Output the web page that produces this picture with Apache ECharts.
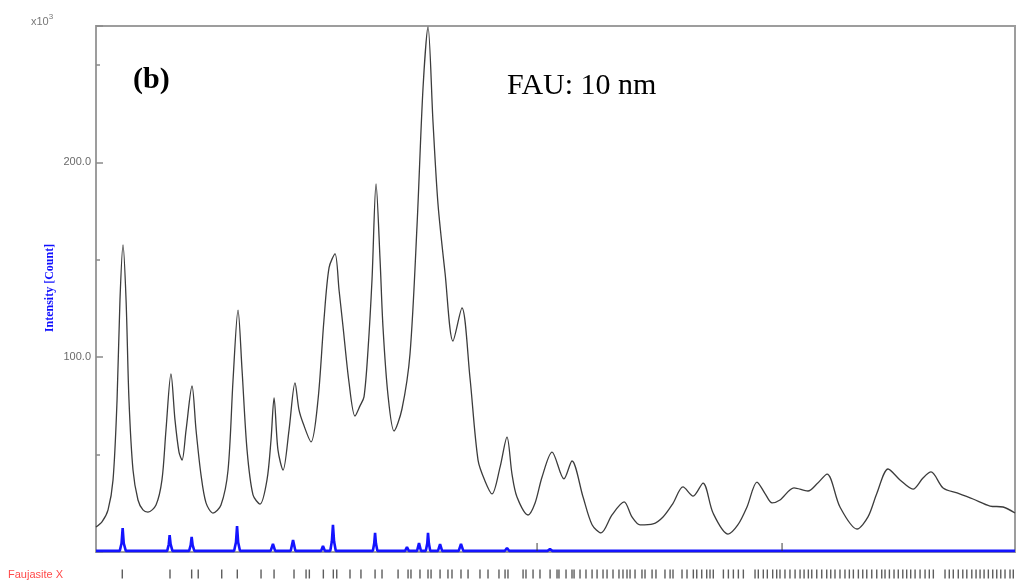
<!DOCTYPE html>
<html><head><meta charset="utf-8">
<script src="https://cdn.jsdelivr.net/npm/echarts@6/dist/echarts.min.js"></script>
<style>html,body{margin:0;padding:0;background:#fff}#c{width:1032px;height:587px}</style>
</head><body><div id="c"></div>
<script>
// Observed XRD pattern (2θ in degrees, intensity in 10^3 counts)
const twoTheta = [4.00,4.49,4.99,5.40,5.73,5.97,6.22,6.47,6.71,7.04,7.45,7.86,8.27,8.93,9.42,9.75,10.16,10.49,10.82,11.07,11.40,11.89,12.22,12.63,13.04,13.61,14.27,14.85,15.26,15.67,16.00,16.41,16.90,17.48,18.05,18.38,18.63,18.95,19.37,19.86,20.35,20.68,21.01,21.67,22.24,22.73,23.15,23.64,23.97,24.30,24.79,25.28,25.69,26.02,26.35,26.68,27.01,27.34,27.58,27.99,28.49,29.14,29.80,30.38,30.87,31.28,31.69,32.10,32.68,33.33,34.07,34.73,35.39,35.96,36.54,37.20,37.77,38.18,38.59,39.50,40.07,40.65,41.47,42.45,43.11,44.02,44.76,45.50,46.40,47.39,48.04,48.70,49.77,50.59,51.41,52.23,53.06,53.88,54.70,55.93,56.75,57.49,58.31,58.97,59.55,60.20,61.35,62.50,63.24,64.07,65.13,66.53,67.43,68.17,69.08,70.06,71.13,71.95,72.61,73.60,74.75,76.06,77.46,78.53,79.51];
const intensity = [12.8,15.4,21.6,37.0,78.0,129.4,157.6,129.4,78.0,42.1,26.7,21.6,20.5,24.1,37.0,62.6,91.4,67.8,51.3,47.2,62.6,85.2,62.6,39.5,25.2,20.0,24.1,42.1,88.3,124.2,93.4,52.4,29.3,24.6,37.0,57.5,79.1,52.4,42.1,62.6,86.8,72.9,66.2,56.5,78.0,119.1,146.0,153.0,134.5,115.5,87.0,69.8,75.0,79.6,103.7,140.0,188.9,150.0,115.5,80.6,62.1,73.4,101.6,167.9,238.2,269.5,220.7,178.6,143.2,108.3,125.3,89.3,47.2,36.5,29.8,43.6,59.0,40.0,28.2,19.0,25.0,38.5,51.3,37.5,46.7,28.2,14.0,9.8,19.0,25.7,18.0,13.9,14.4,18.0,25.0,33.4,28.7,35.4,20.0,9.2,14.0,23.1,35.9,30.0,25.2,26.7,32.9,31.3,35.0,40.0,23.1,11.8,18.0,30.3,42.6,37.0,32.3,38.0,41.1,32.9,30.3,27.2,23.6,23.1,20.0];

// Blue trace near the baseline
const calcTheta = [4.00,5.95,6.10,6.19,6.28,6.45,9.85,9.98,10.05,10.13,10.28,11.65,11.78,11.86,11.94,12.08,15.35,15.50,15.59,15.68,15.83,18.35,18.54,18.72,20.00,20.19,20.38,21.05,21.17,21.30,22.50,22.65,22.80,23.25,23.38,23.47,23.56,23.70,26.75,26.86,26.93,27.00,27.12,29.40,29.55,29.70,30.38,30.54,30.70,31.10,31.22,31.28,31.35,31.46,32.10,32.27,32.44,33.80,33.99,34.18,34.45,34.57,34.70,37.60,37.77,37.94,41.10,41.30,41.50,42.80,42.95,43.10,79.51];
const calcIntensity = [0.6,0.6,4.5,12.3,4.5,0.6,0.6,4.0,8.7,4.0,0.6,0.6,3.5,7.7,3.5,0.6,0.6,5.0,13.3,5.0,0.6,0.6,4.1,0.6,0.6,6.2,0.6,0.6,1.6,0.6,0.6,3.1,0.6,0.6,5.5,13.9,5.5,0.6,0.6,4.5,9.8,4.5,0.6,0.6,2.6,0.6,0.6,4.6,0.6,0.6,4.5,9.8,4.5,0.6,0.6,4.1,0.6,0.6,4.1,0.6,0.6,1.6,0.6,0.6,2.1,0.6,0.6,1.5,0.6,0.6,1.5,0.6,0.6];

// Small vertical markers on the baseline
const markerTheta = [40.24, 60.37];

// Faujasite X reflection positions (2θ)
const reflectionTheta = [6.16,10.08,11.86,12.40,14.33,15.61,17.56,18.63,20.27,21.26,21.53,22.68,23.50,23.78,24.87,25.77,26.93,27.50,28.82,29.64,29.88,30.62,31.28,31.53,32.27,32.92,33.25,33.99,34.57,35.55,36.21,37.11,37.61,37.85,39.09,39.33,39.91,40.48,41.31,41.88,42.04,42.62,43.11,43.28,43.77,44.26,44.76,45.17,45.66,45.99,46.48,46.97,47.30,47.63,47.88,48.29,48.86,49.11,49.69,50.01,50.75,51.17,51.41,52.15,52.56,53.08,53.36,53.77,54.18,54.45,54.72,55.55,55.96,56.37,56.78,57.19,58.15,58.42,58.83,59.16,59.60,59.93,60.20,60.61,61.02,61.44,61.85,62.18,62.53,62.81,63.22,63.63,64.04,64.37,64.72,65.13,65.54,65.90,66.23,66.64,67.00,67.33,67.74,68.15,68.56,68.83,69.19,69.57,69.92,70.29,70.61,70.94,71.30,71.71,72.12,72.47,72.80,73.76,74.11,74.44,74.85,75.22,75.55,75.96,76.31,76.64,76.97,77.32,77.68,78.01,78.34,78.69,79.10,79.37];

const yTickLabels = [100, 200];
const xMin = 4, xMax = 79.51, yMin = 0, yMax = 270;

const chart = echarts.init(document.getElementById('c'), null, {renderer: 'canvas'});
const obs = twoTheta.map((t, i) => [t, intensity[i]]);
const calc = calcTheta.map((t, i) => [t, calcIntensity[i]]);

const option = {
  animation: false,
  backgroundColor: '#fff',
  grid: [
    {left: 96, top: 26, width: 919, height: 526, show: true, borderColor: '#9d9d9d', borderWidth: 2, backgroundColor: 'transparent'},
    {left: 96, top: 569, width: 919, height: 10}
  ],
  xAxis: [
    {type: 'value', gridIndex: 0, min: xMin, max: xMax, show: false},
    {type: 'value', gridIndex: 1, min: xMin, max: xMax, show: false}
  ],
  yAxis: [
    {type: 'value', gridIndex: 0, position: 'left', min: yMin, max: yMax, interval: 100,
     axisLine: {show: false},
     axisTick: {show: true, inside: true, length: 7, lineStyle: {color: '#8a8a8a', width: 1.5}},
     axisLabel: {formatter: v => yTickLabels.includes(v) ? v.toFixed(1) : '', color: '#6a6a6a', fontSize: 11, fontFamily: 'Liberation Sans', margin: 5},
     splitLine: {show: false}},
    {type: 'value', gridIndex: 0, position: 'left', offset: 0, min: yMin, max: yMax, interval: 50,
     axisLine: {show: false},
     axisTick: {show: true, inside: true, length: 4, lineStyle: {color: '#8a8a8a', width: 1.5}},
     axisLabel: {show: false}, splitLine: {show: false}},
    {type: 'value', gridIndex: 1, min: 0, max: 1, show: false}
  ],
  series: [
    {type: 'line', xAxisIndex: 0, yAxisIndex: 0, data: obs, symbol: 'none', smooth: 0.3,
     lineStyle: {color: '#3c3c3c', width: 1.3}, z: 3},
    {type: 'line', xAxisIndex: 0, yAxisIndex: 0, data: calc, symbol: 'none',
     lineStyle: {color: '#1414ff', width: 2.6}, z: 4},
    {type: 'scatter', xAxisIndex: 0, yAxisIndex: 0, data: markerTheta.map(t => [t, 2.6]),
     symbol: 'rect', symbolSize: [1.2, 8], itemStyle: {color: '#333'}, z: 5, silent: true},
    {type: 'scatter', xAxisIndex: 1, yAxisIndex: 2, data: reflectionTheta.map(t => [t, 0.5]),
     symbol: 'rect', symbolSize: [1.4, 9], itemStyle: {color: '#333'}, silent: true}
  ],
  graphic: [
    {type: 'text', left: 31, top: 13, style: {
      text: '{a|x10}{s|3}', rich: {a: {fontSize: 11, fill: '#777', fontFamily: 'Liberation Sans', verticalAlign: 'bottom', lineHeight: 14}, s: {fontSize: 8, fill: '#777', fontFamily: 'Liberation Sans', verticalAlign: 'top', lineHeight: 14}}}},
    {type: 'text', x: 133, y: 80, style: {text: '(b)', font: 'bold 30px "Liberation Serif"', fill: '#000', verticalAlign: 'middle'}},
    {type: 'text', x: 507, y: 86, style: {text: 'FAU: 10 nm', font: '30px "Liberation Serif"', fill: '#000', verticalAlign: 'middle'}},
    {type: 'text', x: 50, y: 288, rotation: Math.PI / 2, style: {text: 'Intensity [Count]', font: 'bold 12px "Liberation Serif"', fill: '#1010ff', align: 'center', verticalAlign: 'middle'}},
    {type: 'text', x: 8, y: 575, style: {text: 'Faujasite X', font: '11px "Liberation Sans"', fill: '#ff4a4a', verticalAlign: 'middle'}}
  ]
};
chart.setOption(option);
</script></body></html>
